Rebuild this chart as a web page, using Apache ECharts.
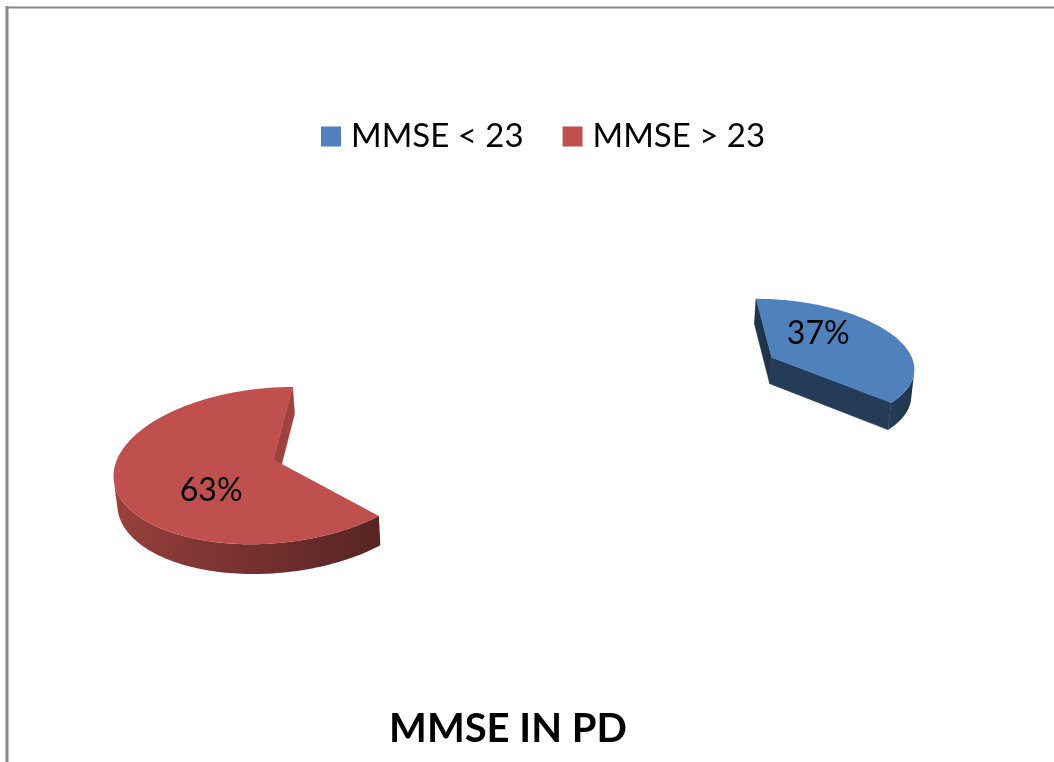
<!DOCTYPE html>
<html>
<head>
<meta charset="utf-8">
<title>MMSE IN PD</title>
<script src="https://cdn.jsdelivr.net/npm/echarts@6/dist/echarts.min.js"></script>
<style>
  html, body { margin: 0; padding: 0; background: #ffffff; }
  #chart { width: 1054px; height: 762px; }
</style>
</head>
<body>
<div id="chart"></div>
<script>
// ---- data ----
const categories = ['MMSE < 23', 'MMSE > 23'];
const values = [37, 63];
const chartTitle = 'MMSE IN PD';

// ---- look ----
const palette = ['#4F81BD', '#C0504D'];
const FONT = 'Lato, "Open Sans", sans-serif';

// 3D pie scene: a unit-radius pie lying flat, seen from above with perspective.
const scene = {
  originX: 536,        // screen position of the pie's centre
  originY: 405.7,
  focal: 1745,         // perspective focal length (px)
  distance: 11.8,      // camera distance in pie radii
  tilt: 28.2,          // camera elevation (deg)
  explode: 1.83,       // how far each slice is pulled out (radii)
  thickness: 0.21,     // slab height (radii)
  startAngle: 90,      // first slice starts here, slices run clockwise
  labelRadius: 0.53,
  labelTurn: 24        // labels sit this many degrees counter-clockwise of the bisector
};

const DEG = Math.PI / 180;
const sinT = Math.sin(scene.tilt * DEG), cosT = Math.cos(scene.tilt * DEG);
const camera = [0, -scene.distance * cosT, scene.distance * sinT];

function project(x, y, z) {
  const v = y * sinT + z * cosT;
  const w = y * cosT - z * sinT;
  const f = scene.focal / (scene.distance + w);
  return [scene.originX + x * f, scene.originY - v * f];
}

// side brightness from the direction a face points to (lit from the left)
function shadeFactor(normalAngle) {
  return 0.4 + 0.42 * (1 - Math.cos(normalAngle)) / 2;
}
function shade(hex, k) {
  const n = parseInt(hex.slice(1), 16);
  const r = Math.round(((n >> 16) & 255) * k);
  const g = Math.round(((n >> 8) & 255) * k);
  const b = Math.round((n & 255) * k);
  return 'rgb(' + r + ',' + g + ',' + b + ')';
}

const total = values.reduce((s, v) => s + v, 0);

function sliceRenderer(index) {
  return function (params, api) {
    const value = api.value(0);
    let before = 0;
    for (let i = 0; i < index; i++) before += values[i];
    const a0 = scene.startAngle - before / total * 360;
    const a1 = a0 - value / total * 360;
    const mid = (a0 + a1) / 2 * DEG;
    const ax = scene.explode * Math.cos(mid);
    const ay = scene.explode * Math.sin(mid);
    const zt = 0, zb = -scene.thickness;
    const base = palette[index];

    const steps = Math.max(12, Math.ceil((a0 - a1) / 1.5));
    const angles = [];
    for (let k = 0; k <= steps; k++) angles.push((a0 - (a0 - a1) * k / steps) * DEG);
    const topRim = angles.map(t => project(ax + Math.cos(t), ay + Math.sin(t), zt));
    const botRim = angles.map(t => project(ax + Math.cos(t), ay + Math.sin(t), zb));
    const apexTop = project(ax, ay, zt);
    const apexBot = project(ax, ay, zb);

    const children = [];

    // radial cut faces (lit from their inner side)
    [[a0, a0 + 90, 0], [a1, a1 - 90, steps]].forEach(([edge, normal, k]) => {
      const n = normal * DEG;
      const facing = (camera[0] - ax) * Math.cos(n) + (camera[1] - ay) * Math.sin(n);
      if (facing <= 0) return;
      const fill = shade(base, shadeFactor(n + Math.PI));
      children.push({
        type: 'polygon',
        shape: { points: [apexTop, topRim[k], botRim[k], apexBot] },
        style: { fill: fill, stroke: fill, lineWidth: 0.5 }
      });
    });

    // outer curved wall, only where it faces the camera
    const visible = angles.map(t => {
      const px = ax + Math.cos(t), py = ay + Math.sin(t);
      return (camera[0] - px) * Math.cos(t) + (camera[1] - py) * Math.sin(t) > 0;
    });
    const runs = [];
    let run = null;
    visible.forEach((vis, k) => {
      if (vis) { if (!run) { run = []; runs.push(run); } run.push(k); }
      else run = null;
    });
    runs.forEach(r => {
      if (r.length < 2) return;
      const pts = r.map(k => topRim[k]).concat(r.slice().reverse().map(k => botRim[k]));
      const xs = r.map(k => topRim[k][0]);
      const minX = Math.min.apply(null, xs), maxX = Math.max.apply(null, xs);
      const span = Math.max(1, maxX - minX);
      const stops = r.map(k => ({
        offset: (topRim[k][0] - minX) / span,
        color: shade(base, shadeFactor(angles[k]))
      })).sort((p, q) => p.offset - q.offset);
      children.push({
        type: 'polygon',
        shape: { points: pts },
        style: { fill: new echarts.graphic.LinearGradient(minX, 0, maxX, 0, stops, true) }
      });
    });

    // top face
    children.push({
      type: 'polygon',
      shape: { points: [apexTop].concat(topRim) },
      style: { fill: base }
    });

    // percentage label
    const la = mid + scene.labelTurn * DEG;
    const lp = project(ax + scene.labelRadius * Math.cos(la), ay + scene.labelRadius * Math.sin(la), zt);
    children.push({
      type: 'text',
      style: {
        text: Math.round(value / total * 100) + '%',
        x: lp[0] + 4, y: lp[1],
        align: 'center', verticalAlign: 'middle',
        textAlign: 'center', textVerticalAlign: 'middle',
        fill: '#000000',
        font: '32px ' + FONT
      }
    });

    return { type: 'group', children: children };
  };
}

const chart = echarts.init(document.getElementById('chart'), null, { renderer: 'canvas' });

chart.setOption({
  backgroundColor: '#ffffff',
  animation: false,
  color: palette,
  title: {
    text: chartTitle,
    left: 503,
    textAlign: 'center',
    top: 704,
    textStyle: { fontFamily: FONT, fontWeight: 'bold', fontSize: 40, color: '#000000' }
  },
  legend: {
    data: categories,
    left: 321,
    top: 120,
    padding: 0,
    icon: 'rect',
    itemWidth: 20,
    itemHeight: 20,
    itemGap: 39,
    textStyle: { fontFamily: FONT, fontSize: 33, color: '#000000', lineHeight: 32, padding: [0, 0, 0, 5] }
  },
  graphic: [
    { type: 'line', shape: { x1: 7, y1: 6, x2: 7, y2: 762 }, style: { stroke: '#898989', lineWidth: 3 } },
    { type: 'line', shape: { x1: 6, y1: 7.5, x2: 1054, y2: 7.5 }, style: { stroke: '#898989', lineWidth: 2 } }
  ],
  series: categories.map((name, i) => ({
    type: 'custom',
    name: name,
    coordinateSystem: 'none',
    itemStyle: { color: palette[i] },
    data: [values[i]],
    renderItem: sliceRenderer(i)
  }))
});
</script>
</body>
</html>
